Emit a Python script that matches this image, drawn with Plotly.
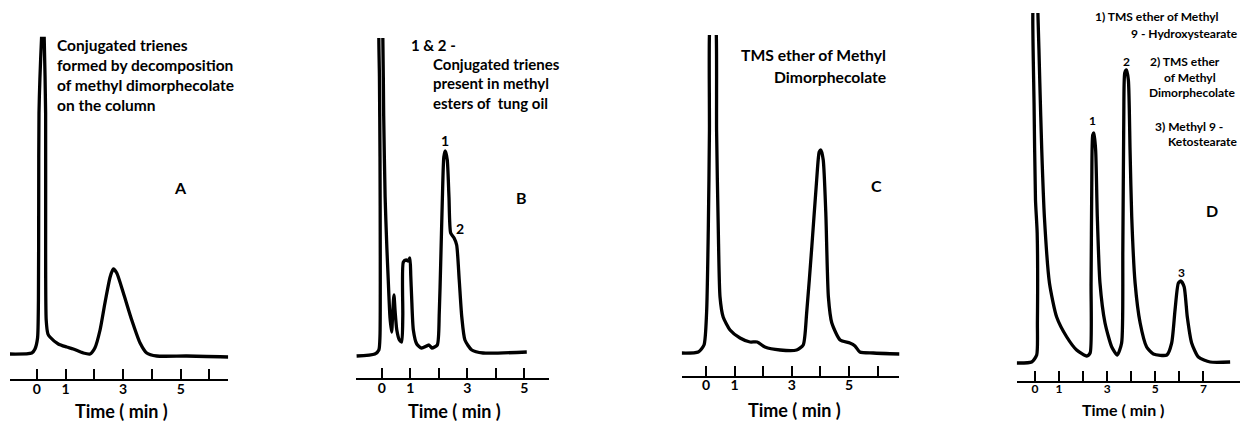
import plotly.graph_objects as go

W, H = 1240, 422

# ---------------- data (time in min, detector response in arbitrary units above baseline) ----------------
tick_vals_abc = [0, 1, 2, 3, 4, 5, 6]
tick_text_abc = ["0", "1", "", "3", "", "5", ""]
tick_vals_d = [0, 1, 2, 3, 4, 5, 6, 7]
tick_text_d = ["0", "1", "", "3", "", "5", "", "7"]

a_time = [-0.93, -0.17, -0.06, 0.03, 0.06, 0.07, 0.08, 0.17, 0.22, 0.26, 0.31, 0.31, 0.33, 0.39,
          0.46, 0.75, 1.04, 1.27, 1.62, 1.85, 2.02, 2.20, 2.37, 2.55, 2.66, 2.78, 3.01, 3.30,
          3.59, 3.82, 4.17, 5.21, 6.65]
a_signal = [3, 4, 8, 19, 57, 157, 244, 320, 345, 320, 244, 107, 37, 23,
            20, 13, 10, 8, 4, 3, 9, 27, 54, 80, 88, 84, 64, 37,
            14, 4, 1, 1, 0]

b_time = [-0.88, -0.24, -0.10, -0.06, -0.05, -0.06, -0.08, -0.10, -0.04, 0.04, 0.07, 0.12, 0.18,
          0.23, 0.29, 0.35, 0.39, 0.43, 0.47, 0.53, 0.62, 0.70, 0.74, 0.76, 0.86, 0.93, 0.99,
          1.02, 1.05, 1.11, 1.23, 1.40, 1.66, 1.76, 1.95, 2.02, 2.07, 2.13, 2.18, 2.23, 2.30,
          2.36, 2.42, 2.54, 2.63, 2.72, 2.81, 2.92, 3.16, 3.56, 5.09]
b_signal = [0, 2, 6, 20, 100, 200, 280, 318, 380, 318, 240, 159, 109,
            76, 39, 24, 45, 61, 45, 26, 16, 14, 40, 94, 96, 95, 98,
            80, 59, 26, 12, 8, 11, 8, 11, 43, 93, 159, 199, 205, 196,
            159, 123, 118, 111, 76, 39, 16, 6, 3, 4]

c_time = [-0.85, -0.27, -0.07, 0.02, 0.08, 0.12, 0.12, 0.24, 0.36, 0.37, 0.43, 0.49, 0.60, 0.84,
          1.19, 1.54, 1.79, 2.06, 2.59, 3.17, 3.40, 3.52, 3.70, 3.87, 3.96, 4.02, 4.10, 4.19,
          4.28, 4.40, 4.69, 5.03, 5.21, 5.38, 5.85, 6.78]
c_signal = [2, 3, 10, 42, 125, 225, 320, 370, 320, 225, 125, 58, 38, 25,
            17, 13, 13, 8, 5, 5, 10, 42, 108, 175, 203, 205, 195, 142,
            58, 32, 15, 12, 9, 3, 2, 1]

d_time = [-0.76, -0.14, 0.07, 0.10, 0.09, 0.02, -0.04, -0.09, 0.02, 0.12, 0.20, 0.28, 0.39, 0.60,
          0.90, 1.32, 1.73, 2.15, 2.29, 2.33, 2.36, 2.40, 2.45, 2.52, 2.59, 2.70, 2.91, 3.19,
          3.42, 3.60, 3.65, 3.69, 3.73, 3.80, 3.88, 3.95, 4.02, 4.16, 4.37, 4.64, 4.92, 5.48,
          5.68, 5.82, 5.96, 6.07, 6.20, 6.33, 6.51, 6.79, 7.28, 8.11]
d_signal = [0, 1, 8, 40, 130, 163, 260, 350, 400, 350, 280, 213, 146, 80,
            46, 26, 13, 7, 10, 80, 180, 228, 230, 213, 146, 80, 40, 16,
            8, 20, 113, 246, 290, 293, 283, 213, 146, 80, 40, 16, 9, 8,
            20, 53, 80, 82, 76, 46, 20, 6, 1, 1]

# ---------------- layout geometry (pixels) ----------------
panels = [
    dict(t=a_time, s=a_signal, x0=10, x1=228.3, ay=379, ty=36.7, tr=[-0.927, 6.653], yr=[-22, 320.3],
         tv=tick_vals_abc, tt=tick_text_abc, tf=14),
    dict(t=b_time, s=b_signal, x0=355.7, x1=549.3, ay=378.3, ty=38, tr=[-0.912, 5.88], yr=[-22.3, 318],
         tv=tick_vals_abc, tt=tick_text_abc, tf=14),
    dict(t=c_time, s=c_signal, x0=681.7, x1=899.3, ay=375.7, ty=35, tr=[-0.85, 6.76], yr=[-20.7, 320],
         tv=tick_vals_abc, tt=tick_text_abc, tf=14),
    dict(t=d_time, s=d_signal, x0=1016.7, x1=1240, ay=380.5, ty=13, tr=[-0.761, 8.52], yr=[-17.5, 350],
         tv=tick_vals_d, tt=tick_text_d, tf=12),
]

FONT = "Lato"
fig = go.Figure()
for i, p in enumerate(panels, start=1):
    sx = "" if i == 1 else str(i)
    fig.add_trace(go.Scatter(
        x=p["t"], y=p["s"], mode="lines",
        line=dict(color="black", width=3.3, shape="spline", smoothing=0.6),
        xaxis="x" + sx, yaxis="y" + sx, showlegend=False, hoverinfo="skip"))
    fig.layout["xaxis" + sx] = dict(
        domain=[p["x0"] / W, p["x1"] / W], range=p["tr"], anchor="y" + sx,
        showgrid=False, zeroline=False, showline=True, linecolor="black", linewidth=1.8,
        ticks="inside", ticklen=10, tickwidth=1.8, tickcolor="black",
        tickvals=p["tv"], ticktext=p["tt"], ticklabelstandoff=-4,
        tickfont=dict(family=FONT, size=p["tf"], color="black", weight="bold"),
        fixedrange=True)
    fig.layout["yaxis" + sx] = dict(
        domain=[1 - p["ay"] / H, 1 - p["ty"] / H], range=p["yr"], anchor="x" + sx,
        visible=False, fixedrange=True)


def ptext(x, y, text, size, anchor="left", weight="bold"):
    fig.add_annotation(x=x / W, y=1 - y / H, xref="paper", yref="paper", text=text,
                       showarrow=False, xanchor=anchor, yanchor="middle",
                       font=dict(family=FONT, size=size, color="black", weight=weight))


def dtext(ax, x, y, text, size, weight="bold"):
    fig.add_annotation(x=x, y=y, xref="x" + ax, yref="y" + ax, text=text, showarrow=False,
                       xanchor="center", yanchor="middle",
                       font=dict(family=FONT, size=size, color="black", weight=weight))


# panel A
for k, line in enumerate(["Conjugated trienes", "formed by decomposition",
                          "of methyl dimorphecolate", "on the column"]):
    ptext(55, 45 + 20 * k, line, 15.5)
dtext("", 4.98, 170, "A", 16)

# panel B
ptext(409, 45, "1 &amp; 2 -", 15)
for k, line in enumerate(["Conjugated trienes", "present in methyl", "esters of  tung oil"]):
    ptext(430.7, 64 + 19.3 * k, line, 15)
dtext("2", 2.22, 216, "1", 14)
dtext("2", 2.75, 128, "2", 14)
dtext("2", 4.91, 159, "B", 16)

# panel C
ptext(888.3, 55, "TMS ether of Methyl", 15.7, anchor="right")
ptext(888.3, 76.7, "Dimorphecolate", 15.7, anchor="right")
dtext("3", 5.97, 170, "C", 16)

# panel D
ptext(1093, 16.7, "1) TMS ether of Methyl", 12)
ptext(1129.3, 33.3, "9 - Hydroxystearate", 12)
ptext(1148.3, 61, "2) TMS ether", 12)
ptext(1161.7, 77.3, "of Methyl", 12)
ptext(1146.7, 92.7, "Dimorphecolate", 12)
ptext(1152.7, 126.7, "3) Methyl 9 -", 12)
ptext(1166, 141.7, "Ketostearate", 12)
dtext("4", 2.40, 243, "1", 12)
dtext("4", 3.81, 302, "2", 12)
dtext("4", 6.10, 91, "3", 12)
dtext("4", 7.35, 153, "D", 16)

# axis titles
ptext(121, 411, "Time ( min )", 18, anchor="center")
ptext(454, 411, "Time ( min )", 18, anchor="center")
ptext(794, 410, "Time ( min )", 18, anchor="center")
ptext(1122.5, 409, "Time ( min )", 16, anchor="center")

fig.update_layout(width=W, height=H, margin=dict(l=0, r=0, t=0, b=0),
                  paper_bgcolor="white", plot_bgcolor="white", showlegend=False)

fig.write_html("out.html", config={"displayModeBar": False},
               post_script="document.body.style.margin='0px';document.body.style.overflow='hidden';")
